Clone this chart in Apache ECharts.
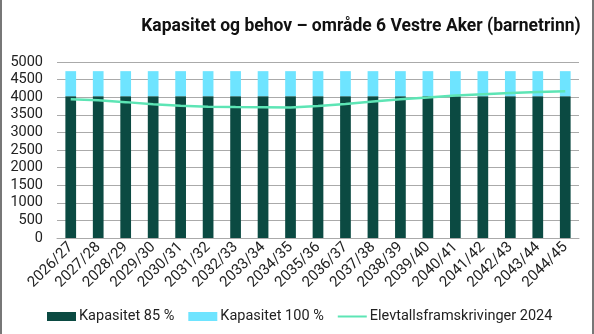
<!DOCTYPE html>
<html>
<head>
<meta charset="utf-8">
<script src="https://cdn.jsdelivr.net/npm/echarts@6/dist/echarts.min.js"></script>
<style>
html,body{margin:0;padding:0;background:#fff;}
#frame{position:absolute;left:0;top:0;width:594px;height:334px;border-left:2px solid #777;border-right:2px solid #777;box-sizing:border-box;}
#chart{position:absolute;left:0;top:0;width:594px;height:334px;}
</style>
</head>
<body>
<div id="frame"></div>
<div id="chart"></div>
<script>
const categories = ["2026/27","2027/28","2028/29","2029/30","2030/31","2031/32","2032/33","2033/34","2034/35","2035/36","2036/37","2037/38","2038/39","2039/40","2040/41","2041/42","2042/43","2043/44","2044/45"];
const kap85 = [4030,4030,4030,4030,4030,4030,4030,4030,4030,4030,4030,4030,4030,4030,4030,4030,4030,4030,4030];
const kap100extra = [710,710,710,710,710,710,710,710,710,710,710,710,710,710,710,710,710,710,710];
const elevtall = [3940,3910,3860,3800,3760,3730,3720,3712,3705,3750,3810,3875,3940,3990,4045,4085,4120,4145,4170];
const yTicks = {min:0, max:5000, interval:500};

const chart = echarts.init(document.getElementById('chart'));
const font = 'Roboto, "Noto Sans", sans-serif';
chart.setOption({
  animation:false,
  textStyle:{fontFamily:font},
  title:{
    text:'Kapasitet og behov – område 6 Vestre Aker (barnetrinn)',
    left:356, top:13, textAlign:'center',
    textStyle:{fontFamily:font, fontSize:17.5, fontWeight:'bold', color:'#111'}
  },
  grid:{left:57, right:15, top:62, bottom:96, containLabel:false},
  legend:{
    top:304, left:42, itemGap:14, itemWidth:29, itemHeight:9,
    textStyle:{fontFamily:font, fontSize:14.5, color:'#222', padding:[0,0,0,-2]},
    data:[
      {name:'Kapasitet 85 %', icon:'rect'},
      {name:'Kapasitet 100 %', icon:'rect'},
      {name:'Elevtallsframskrivinger 2024', icon:'path://M0,3.5 L29,3.5 L29,5.5 L0,5.5 Z'}
    ]
  },
  xAxis:{
    type:'category', data:categories,
    axisLine:{show:true, lineStyle:{color:'#aaa'}}, axisTick:{show:false},
    axisLabel:{rotate:45, interval:0, fontSize:15, color:'#222', margin:7}
  },
  yAxis:{
    type:'value', min:yTicks.min, max:yTicks.max, interval:yTicks.interval,
    axisLine:{show:false}, axisTick:{show:false},
    splitLine:{lineStyle:{color:'#aaa', width:1}},
    axisLabel:{fontSize:14.5, color:'#222', margin:14, formatter:function(v){return String(v);}}
  },
  series:[
    {name:'Kapasitet 85 %', type:'bar', stack:'kap', data:kap85, barWidth:'39%', itemStyle:{color:'#0B4A42'}},
    {name:'Kapasitet 100 %', type:'bar', stack:'kap', data:kap100extra, itemStyle:{color:'#6EE4FF'}},
    {name:'Elevtallsframskrivinger 2024', type:'line', data:elevtall, symbol:'none', smooth:false,
     lineStyle:{color:'#5DE5B5', width:2.5}, itemStyle:{color:'#5DE5B5'}}
  ]
});
</script>
</body>
</html>
